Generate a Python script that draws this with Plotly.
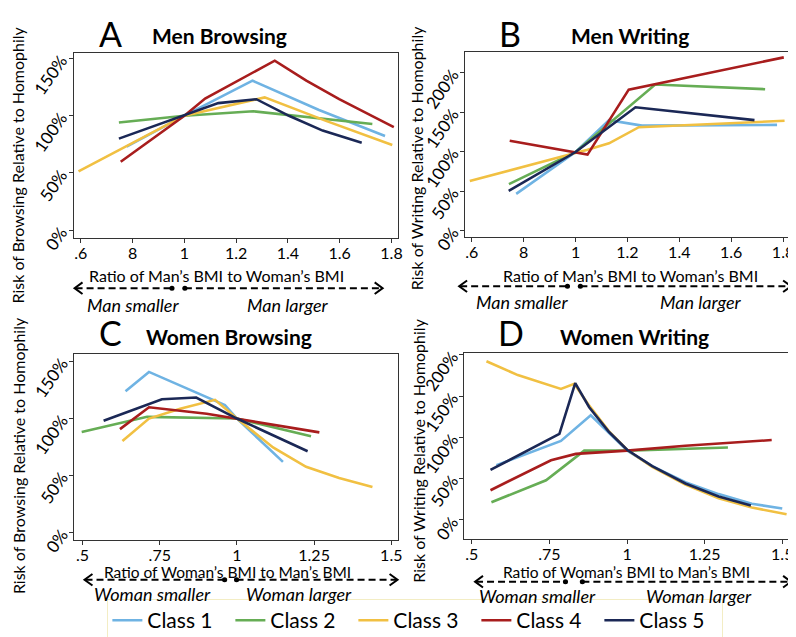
import plotly.graph_objects as go

# ---------------- data ----------------
classes = ["Class 1", "Class 2", "Class 3", "Class 4", "Class 5"]
colors = ["#6fb3e3", "#66ad55", "#f1c042", "#a81d1d", "#1b2856"]

# Panel A: Men Browsing
a1_x = [0.777, 1.0, 1.263, 1.52, 1.775]
a1_y = [73, 100, 130.6, 105, 82.3]
a2_x = [0.747, 1.0, 1.266, 1.726]
a2_y = [94.1, 100, 103.9, 92.7]
a3_x = [0.591, 1.0, 1.31, 1.547, 1.803]
a3_y = [51.4, 100, 116, 95.5, 74.4]
a4_x = [0.754, 1.0, 1.08, 1.349, 1.471, 1.598, 1.726, 1.809]
a4_y = [59.8, 100, 115, 148, 130.6, 114.4, 99.7, 90]
a5_x = [0.747, 1.0, 1.131, 1.278, 1.406, 1.534, 1.685]
a5_y = [80, 100, 111, 114.4, 99.7, 87, 76.4]

# Panel B: Men Writing
b1_x = [0.771, 1.0, 1.129, 1.256, 1.777]
b1_y = [46.4, 99.4, 139.7, 132.8, 133.7]
b2_x = [0.743, 1.0, 1.307, 1.731]
b2_y = [58.7, 99.4, 184.9, 178.9]
b3_x = [0.592, 1.0, 1.046, 1.129, 1.244, 1.806]
b3_y = [62.7, 98, 102.2, 110.4, 130.8, 138.9]
b4_x = [0.746, 1.046, 1.205, 1.803]
b4_y = [113.6, 96.1, 178.4, 219.2]
b5_x = [0.742, 1.0, 1.231, 1.69]
b5_y = [50.1, 99.4, 156, 139.8]

# Panel C: Women Browsing
c1_x = [0.639, 0.715, 0.961, 1.0, 1.149]
c1_y = [123.8, 140.7, 111.7, 99.8, 61.8]
c2_x = [0.497, 0.709, 1.0, 1.24]
c2_y = [88, 101.3, 99.8, 84.3]
c3_x = [0.629, 0.715, 0.816, 0.929, 1.0, 1.117, 1.224, 1.331, 1.439]
c3_y = [80.1, 99.8, 108.3, 116.2, 99.8, 74.5, 57.5, 47.6, 39.8]
c4_x = [0.621, 0.715, 0.902, 1.0, 1.267]
c4_y = [90.5, 109.7, 104, 99.8, 87.7]
c5_x = [0.568, 0.757, 0.868, 1.0, 1.229]
c5_y = [97.9, 116.7, 118.2, 99.8, 71.1]

# Panel D: Women Writing
d1_x = [0.579, 0.787, 0.883, 0.942, 1.001, 1.081, 1.188, 1.295, 1.402, 1.5]
d1_y = [66.3, 95.6, 126.7, 105.3, 83.9, 65.1, 45.6, 31.2, 19.5, 13.7]
d2_x = [0.563, 0.739, 0.862, 1.0, 1.325]
d2_y = [21.4, 48, 83.9, 83.9, 87.7]
d3_x = [0.547, 0.648, 0.787, 0.830, 0.878, 0.942, 1.001, 1.081, 1.188, 1.295, 1.402, 1.514]
d3_y = [192.2, 175.4, 158.7, 164.9, 138.4, 107.3, 84.6, 64.3, 42.9, 26.1, 14.9, 6.7]
d4_x = [0.560, 0.755, 0.835, 1.0, 1.188, 1.466]
d4_y = [35.9, 72.2, 79.9, 83.9, 89.7, 96.7]
d5_x = [0.560, 0.782, 0.833, 0.878, 0.942, 1.001, 1.081, 1.188, 1.295, 1.399]
d5_y = [60.5, 104.1, 165.7, 136.5, 106.4, 84.6, 65.1, 44.1, 28.4, 17.5]

men_xticks = [0.6, 0.8, 1.0, 1.2, 1.4, 1.6, 1.8]
men_xtext = [".6", "8", "1", "1.2", "1.4", "1.6", "1.8"]
women_xticks = [0.5, 0.75, 1.0, 1.25, 1.5]
women_xtext = [".5", ".75", "1", "1.25", "1.5"]
y150_ticks = [0, 50, 100, 150]
y200_ticks = [0, 50, 100, 150, 200]

# ---------------- layout helpers ----------------
W, H = 796, 637
FONT = "Lato"


def fx(x):
    return x / W


def fy(y):
    return 1 - y / H


fig = go.Figure()

panels = [
    ("x", "y", [(a1_x, a1_y), (a2_x, a2_y), (a3_x, a3_y), (a4_x, a4_y), (a5_x, a5_y)]),
    ("x2", "y2", [(b1_x, b1_y), (b2_x, b2_y), (b3_x, b3_y), (b4_x, b4_y), (b5_x, b5_y)]),
    ("x3", "y3", [(c1_x, c1_y), (c2_x, c2_y), (c3_x, c3_y), (c4_x, c4_y), (c5_x, c5_y)]),
    ("x4", "y4", [(d1_x, d1_y), (d2_x, d2_y), (d3_x, d3_y), (d4_x, d4_y), (d5_x, d5_y)]),
]

for pi, (xa, ya, series) in enumerate(panels):
    for ci, (xs, ys) in enumerate(series):
        fig.add_trace(go.Scatter(
            x=xs, y=ys, mode="lines", xaxis=xa, yaxis=ya,
            name=classes[ci], legendgroup=classes[ci], showlegend=(pi == 0),
            line=dict(color=colors[ci], width=2.6),
            hoverinfo="skip",
        ))

axis_common = dict(
    showline=True, linecolor="#333333", linewidth=1, mirror=True,
    ticks="outside", ticklen=4, tickcolor="#333333", showgrid=False,
    zeroline=False, tickfont=dict(family=FONT, size=16, color="black"),
)


def xax(l, r, rng, tv, tt, anchor):
    return dict(axis_common, domain=[fx(l), fx(r)], range=rng, tickvals=tv,
                ticktext=tt, anchor=anchor, ticklabelstandoff=-3)


def yax(t, b, rng, tv, anchor):
    return dict(axis_common, domain=[fy(b), fy(t)], range=rng, tickvals=tv,
                ticktext=[f"{v}%" for v in tv], tickangle=-55, anchor=anchor,
                ticklabelstandoff=4,
                tickfont=dict(family=FONT, size=17, color="black"))


fig.update_layout(
    xaxis=xax(66, 392.7, [0.572, 1.826], men_xticks, men_xtext, "y"),
    yaxis=yax(41, 233, [-6.7, 155.1], y150_ticks, "x"),
    xaxis2=xax(460, 786.7, [0.574, 1.826], men_xticks, men_xtext, "y2"),
    yaxis2=yax(40, 232, [-8.2, 226.5], y200_ticks, "x2"),
    xaxis3=xax(66.7, 392.7, [0.473, 1.5225], women_xticks, women_xtext, "y3"),
    yaxis3=yax(353.3, 546, [-6.8, 156.3], y150_ticks, "x3"),
    xaxis4=xax(459.3, 785.7, [0.476, 1.521], women_xticks, women_xtext, "y4"),
    yaxis4=yax(351.7, 545, [-23.4, 202.7], y200_ticks, "x4"),
)

annotations = []
shapes = []


def text(cx, cy, s, size, bold=False, italic=False, angle=0):
    if bold:
        s = f"<b>{s}</b>"
    if italic:
        s = f"<i>{s}</i>"
    annotations.append(dict(
        x=fx(cx), y=fy(cy), xref="paper", yref="paper", text=s,
        showarrow=False, xanchor="center", yanchor="middle", textangle=angle,
        font=dict(family=FONT, size=size, color="black"),
    ))


# panel letters and titles
text(103, 21, "A", 34)
text(213, 23, "Men Browsing", 21, bold=True)
text(505, 21, "B", 34)
text(626, 23, "Men Writing", 21, bold=True)
text(103, 331, "C", 34)
text(222, 335, "Women Browsing", 21, bold=True)
text(506, 331, "D", 34)
text(630, 335, "Women Writing", 21, bold=True)

# axis titles
text(210, 272, "Ratio of Man’s BMI to Woman’s BMI", 16)
text(626, 272, "Ratio of Man’s BMI to Woman’s BMI", 16)
text(221, 579, "Ratio of Woman’s BMI to Man’s BMI", 15.5)
text(622, 579, "Ratio of Woman’s BMI to Man’s BMI", 15.5)
text(10, 157, "Risk of Browsing Relative to Homophily", 16, angle=-90)
text(411, 150, "Risk of Writing Relative to Homophily", 16, angle=-90)
text(10, 458, "Risk of Browsing Relative to Homophily", 16, angle=-90)
text(413, 453, "Risk of Writing Relative to Homophily", 16, angle=-90)

# direction labels
text(126, 302, "Man smaller", 18, italic=True)
text(282, 302, "Man larger", 18, italic=True)
text(517, 299, "Man smaller", 18, italic=True)
text(697, 299, "Man larger", 18, italic=True)
text(145, 602, "Woman smaller", 18, italic=True)
text(293, 602, "Woman larger", 18, italic=True)
text(533, 604, "Woman smaller", 18, italic=True)
text(695, 604, "Woman larger", 18, italic=True)


def arrow(y, x0, d1, d2, x1):
    dash = "7px,4px"
    for a, b in ((x0 + 1, d1), (d2, x1 - 1)):
        shapes.append(dict(type="line", xref="paper", yref="paper",
                           x0=fx(a), x1=fx(b), y0=fy(y), y1=fy(y),
                           line=dict(color="black", width=2, dash=dash)))
    hw, hh = 8, 6
    for tip, sgn in ((x0, 1), (x1, -1)):
        path = (f"M {fx(tip + sgn * hw)} {fy(y - hh)} L {fx(tip)} {fy(y)} "
                f"L {fx(tip + sgn * hw)} {fy(y + hh)}")
        shapes.append(dict(type="path", xref="paper", yref="paper", path=path,
                           line=dict(color="black", width=2)))
    r = 2.6
    for d in (d1, d2):
        shapes.append(dict(type="circle", xref="paper", yref="paper",
                           x0=fx(d - r), x1=fx(d + r), y0=fy(y + r), y1=fy(y - r),
                           fillcolor="black", line=dict(color="black", width=0)))


arrow(285, 67, 165, 178, 377)
arrow(283, 454, 563, 576, 788)
arrow(587, 77, 218, 230, 392)
arrow(589, 470, 561, 578, 788)

fig.update_layout(
    width=W, height=H, autosize=False,
    margin=dict(l=0, r=0, t=0, b=0),
    paper_bgcolor="white", plot_bgcolor="white",
    annotations=annotations, shapes=shapes,
    showlegend=True,
    legend=dict(
        orientation="h", x=fx(100), xanchor="left", y=fy(607), yanchor="top",
        font=dict(family=FONT, size=21, color="black"),
        bordercolor="#f3edc4", borderwidth=1, bgcolor="rgba(0,0,0,0)",
        entrywidth=78, entrywidthmode="pixels", itemwidth=30,
    ),
    hovermode=False,
)

fig.write_html("out.html")
